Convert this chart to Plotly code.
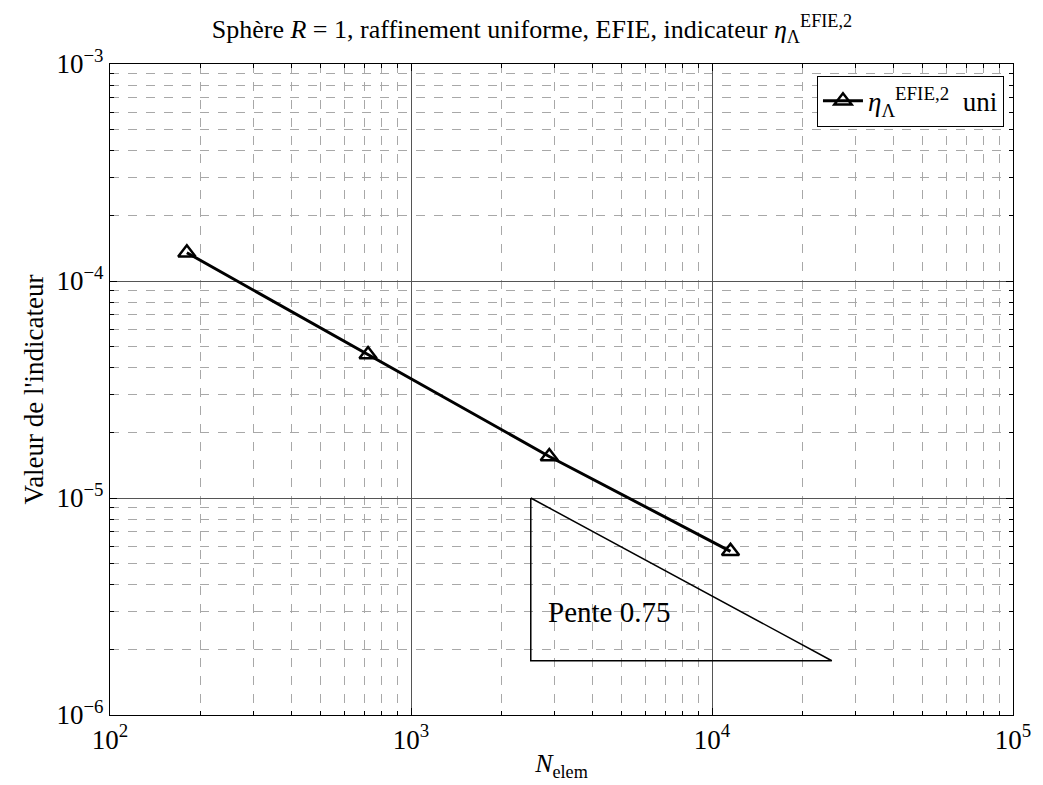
import numpy as np
import plotly.graph_objects as go

# Uniform refinement of the unit sphere: element counts and indicator values
n_elem = [180, 720, 2880, 11520]
eta_values = [1.35e-4, 4.58e-5, 1.554e-5, 5.68e-6]

# Reference slope triangle
slope = 0.75
tri_x0, tri_x1 = 2500, 25000
tri_ytop = 1e-5
tri_ybot = tri_ytop * (tri_x1 / tri_x0) ** (-slope)
tri_x = [tri_x0, tri_x0, tri_x1, tri_x0]
tri_y = [tri_ytop, tri_ybot, tri_ybot, tri_ytop]
slope_label = f"Pente {slope}"
slope_label_pos = (4550, 2.98e-6)

x_major = [1e2, 1e3, 1e4, 1e5]
x_major_text = ["10<sup>2</sup>", "10<sup>3</sup>", "10<sup>4</sup>", "10<sup>5</sup>"]
y_major = [1e-6, 1e-5, 1e-4, 1e-3]
y_major_text = ["10<sup>\u22126</sup>", "10<sup>\u22125</sup>", "10<sup>\u22124</sup>", "10<sup>\u22123</sup>"]

x_minor = [m * 10.0 ** k for k in range(2, 5) for m in range(2, 10)]
y_minor = [m * 10.0 ** k for k in range(-6, -3) for m in range(2, 10)]

FONT = "Liberation Serif"

fig = go.Figure()

fig.add_trace(go.Scatter(
    x=tri_x, y=tri_y, mode="lines",
    line=dict(color="black", width=1.5),
    showlegend=False, hoverinfo="skip",
))

fig.add_trace(go.Scatter(
    x=n_elem, y=eta_values, mode="lines+markers",
    name="<i>\u03b7</i><sub>\u039b</sub><sup>EFIE,2</sup>  uni",
    line=dict(color="black", width=3),
    marker=dict(symbol="triangle-up-open", size=15, color="black",
                line=dict(width=2.5, color="black")),
))

fig.add_annotation(
    x=np.log10(slope_label_pos[0]), y=np.log10(slope_label_pos[1]),
    xref="x", yref="y", text=slope_label, showarrow=False,
    font=dict(family=FONT, size=29, color="black"),
)

axis_common = dict(
    type="log",
    showline=True, linecolor="black", linewidth=1.2, mirror="allticks",
    ticks="inside", ticklen=7, tickcolor="black", tickwidth=1,
    showgrid=True, gridcolor="#555555", gridwidth=1,
    zeroline=False, ticklabeloverflow="allow",
    tickfont=dict(family=FONT, size=27, color="black"),
)

fig.update_xaxes(
    **axis_common,
    range=[2, 5],
    tickmode="array", tickvals=x_major, ticktext=x_major_text,
    minor=dict(tickmode="array", tickvals=x_minor, ticks="inside", ticklen=4,
               tickcolor="black", showgrid=True, gridcolor="#a8a8a8",
               griddash="dash", gridwidth=1),
    title=dict(text="<i>N</i><sub>elem</sub>", font=dict(family=FONT, size=26, color="black"),
               standoff=0),
)
fig.update_yaxes(
    **axis_common,
    range=[-6, -3],
    tickmode="array", tickvals=y_major, ticktext=y_major_text,
    minor=dict(tickmode="array", tickvals=y_minor, ticks="inside", ticklen=4,
               tickcolor="black", showgrid=True, gridcolor="#a8a8a8",
               griddash="dash", gridwidth=1),
    title=dict(text="Valeur de l'indicateur", font=dict(family=FONT, size=27, color="black"),
               standoff=4),
)

fig.update_layout(
    width=1043, height=785,
    margin=dict(l=110, r=21, t=64, b=69),
    paper_bgcolor="white", plot_bgcolor="white",
    title=dict(
        text="Sphère <i>R</i> = 1, raffinement uniforme, EFIE, indicateur "
             "<i>\u03b7</i><sub>\u039b</sub><sup>EFIE,2</sup>",
        x=0.51, xanchor="center", y=0.975, yanchor="top",
        font=dict(family=FONT, size=26, color="black"),
    ),
    legend=dict(
        x=0.99, y=0.982, xanchor="right", yanchor="top",
        bgcolor="white", bordercolor="black", borderwidth=1,
        itemwidth=40,
        font=dict(family=FONT, size=27, color="black"),
    ),
    showlegend=True,
)

fig.write_html("out.html")
